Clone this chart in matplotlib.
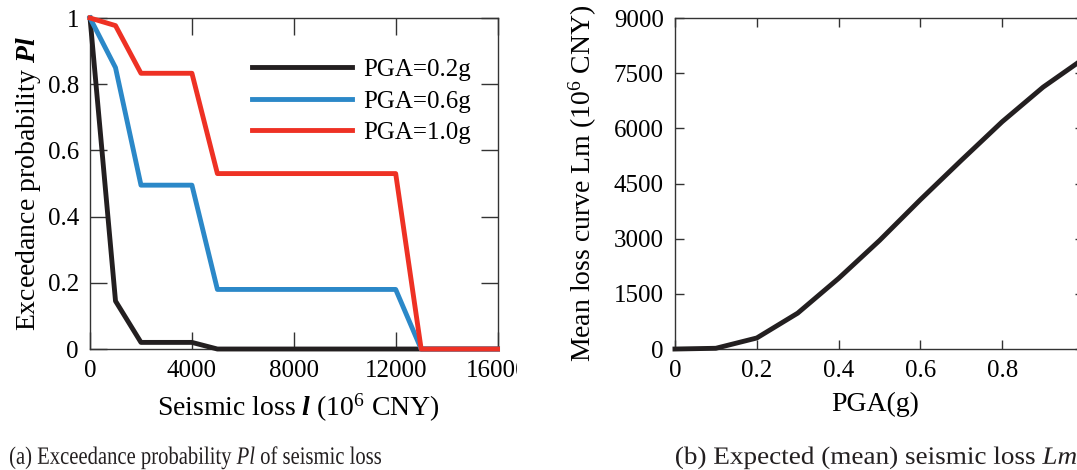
import numpy as np
import matplotlib
matplotlib.use("Agg")
import matplotlib.pyplot as plt
from matplotlib.patches import Rectangle, PathPatch
from matplotlib.textpath import TextPath
from matplotlib.font_manager import FontProperties
from matplotlib.transforms import Affine2D

# fonts: Times-like serif everywhere
plt.rcParams['font.family'] = 'Liberation Serif'
plt.rcParams['mathtext.fontset'] = 'custom'
plt.rcParams['mathtext.rm'] = 'Liberation Serif'
plt.rcParams['mathtext.it'] = 'Liberation Serif:italic'
plt.rcParams['mathtext.bf'] = 'Liberation Serif:bold'
plt.rcParams['mathtext.bfit'] = 'Liberation Serif:italic:bold'

# (a) exceedance probability of seismic loss
loss = [0, 1000, 2000, 4000, 5000, 12000, 13000, 16000]
pl_02 = [1.0, 0.145, 0.02, 0.02, 0.0, 0.0, 0.0, 0.0]
pl_06 = [1.0, 0.85, 0.495, 0.495, 0.18, 0.18, 0.0, 0.0]
pl_10 = [1.0, 0.977, 0.833, 0.833, 0.53, 0.53, 0.0, 0.0]
labels_a = ['PGA=0.2g', 'PGA=0.6g', 'PGA=1.0g']
xticks_a = [0, 4000, 8000, 12000, 16000]
yticks_a = [0, 0.2, 0.4, 0.6, 0.8, 1]
yticklabels_a = ['0', '0.2', '0.4', '0.6', '0.8', '1']

# (b) mean seismic loss vs PGA
pga = [0, 0.1, 0.2, 0.3, 0.4, 0.5, 0.6, 0.7, 0.8, 0.9, 1.0]
lm = [0, 20, 300, 975, 1920, 2950, 4060, 5130, 6180, 7120, 7900]
xticks_b = [0, 0.2, 0.4, 0.6, 0.8, 1.0]
xticklabels_b = ['0', '0.2', '0.4', '0.6', '0.8', '']   # "1" falls off the cropped edge
yticks_b = [0, 1500, 3000, 4500, 6000, 7500, 9000]

captions = [r'(a) Exceedance probability $\mathit{Pl}$ of seismic loss',
            r'(b) Expected (mean) seismic loss $\mathit{Lm}$']

black = '#231f20'
blue = '#2b88c8'
red = '#ee3124'
fs = 18
lfs = 20

fig = plt.figure(figsize=(10.77, 4.70), dpi=100)
ax1 = fig.add_axes([0.0836, 0.2574, 0.3784, 0.7043])
ax2 = fig.add_axes([0.6267, 0.2574, 0.3798, 0.7043])

for ax, tlen in ((ax1, 12), (ax2, 6.5)):
    for s in ax.spines.values():
        s.set_color('#333333')
        s.set_linewidth(1.0)
    ax.tick_params(direction='in', length=tlen, width=1.0, color='#333333',
                   top=True, right=True, labelsize=fs, pad=8)

ax1.plot(loss, pl_02, color=black, lw=3.5, label=labels_a[0], clip_on=False, zorder=3)
ax1.plot(loss, pl_06, color=blue, lw=3.5, label=labels_a[1], clip_on=False, zorder=4)
ax1.plot(loss, pl_10, color=red, lw=3.5, label=labels_a[2], clip_on=False, zorder=5)
ax1.set_xlim(0, 16000)
ax1.set_ylim(0, 1)
ax1.set_xticks(xticks_a)
ax1.set_yticks(yticks_a)
ax1.set_yticklabels(yticklabels_a)
ax1.set_xlabel(r'Seismic loss $\mathbfit{l}$ (10$^6$ CNY)', fontsize=lfs)
ax1.set_ylabel(r'Exceedance probability $\mathbfit{Pl}$', fontsize=lfs)
ax1.xaxis.set_label_coords(0.51, -0.13)
ax1.yaxis.set_label_coords(-0.115, 0.5)
ax1.legend(loc='upper left', bbox_to_anchor=(0.3975, 0.877), frameon=False,
           fontsize=fs, handlelength=4.0, handletextpad=0.45,
           labelspacing=0.36, borderpad=0, borderaxespad=0)

ax2.plot(pga, lm, color=black, lw=3.5, clip_on=False, zorder=3)
ax2.set_xlim(0, 1)
ax2.set_ylim(0, 9000)
ax2.set_xticks(xticks_b)
ax2.set_xticklabels(xticklabels_b)
ax2.set_yticks(yticks_b)
ax2.set_xlabel('PGA(g)', fontsize=lfs)
ax2.set_ylabel(r'Mean loss curve Lm (10$^6$ CNY)', fontsize=lfs)
ax2.xaxis.set_label_coords(0.49, -0.13)
ax2.yaxis.set_label_coords(-0.185, 0.5)

# the first panel was cropped just right of its last tick label
fig.patches.append(Rectangle((517 / 1077, 0.12), 23 / 1077, 0.12,
                             transform=fig.transFigure, color='white', zorder=10))

# captions are set in a condensed serif: draw them as paths squeezed sideways
prop = FontProperties(family='Liberation Serif')
for cap, (x0, x1) in zip(captions, [(10, 381), (676, 1076)]):
    tp = TextPath((0, 0), cap, size=25, prop=prop)
    ext = tp.get_extents()
    sx = (x1 - x0) / ext.width
    tr = Affine2D().translate(-ext.x0, 0).scale(sx, 1).translate(x0, 6)
    fig.patches.append(PathPatch(tp, transform=tr, color='#231f20', lw=0))

fig.savefig('out.png', dpi=100)
